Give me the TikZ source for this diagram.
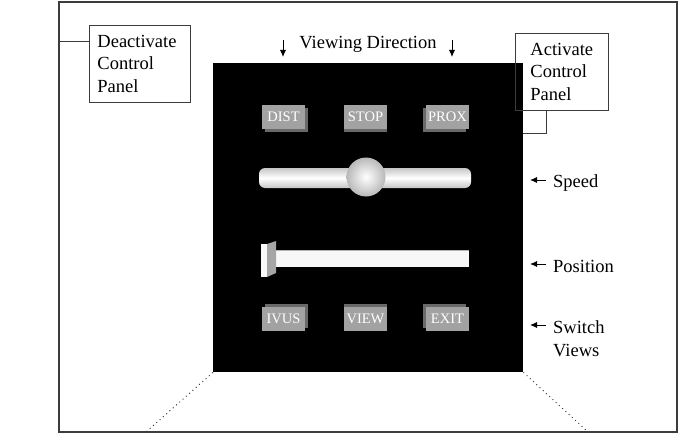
\documentclass[tikz,border=0pt]{standalone}
\usepackage{fontspec}
\setmainfont{Liberation Serif}
\usetikzlibrary{arrows.meta,shadows}
\definecolor{btnface}{RGB}{162,162,162}
\definecolor{btnside}{RGB}{105,105,105}
\definecolor{linegray}{RGB}{60,60,60}
\begin{document}
\begin{tikzpicture}[x=1pt,y=-1pt,
  lbl/.style={font=\fontsize{18.5}{22.5}\selectfont, inner sep=0pt, align=left},
  callout/.style={draw=linegray, line width=0.9pt, anchor=north west, minimum height=77pt,
    font=\fontsize{18.5}{22.5}\selectfont, align=left, inner ysep=0pt},
  conn/.style={draw=linegray, line width=0.9pt},
  arr/.style={line width=0.9pt, -{Latex[length=7pt,width=6pt]}},
  btn/.style={fill=btnface, minimum width=43pt, minimum height=24pt, inner sep=0pt,
    text=white, font=\fontsize{14.5}{15}\selectfont},
  bev/.style 2 args={drop shadow={shadow xshift=#1pt, shadow yshift=#2pt, fill=btnside, opacity=1}},
  dots/.style={draw=black!75, line width=1pt, dash pattern=on 1pt off 3.4pt}
]
\useasboundingbox (0,0) rectangle (682,436);
% outer frame
\draw[draw=linegray, line width=1.5pt] (59,2) rectangle (677,432);
\coordinate (fbl) at (146,432);
\coordinate (fbr) at (588,432);
% black panel
\node[fill=black, minimum width=310pt, minimum height=309pt, inner sep=0pt, anchor=north west] (panel) at (213,63) {};
% dotted perspective lines
\draw[dots] (panel.south west) -- (fbl);
\draw[dots] (panel.south east) -- (fbr);
% callouts
\node[callout, text width=85pt, inner xsep=8pt, minimum width=101pt] (deact) at (89,25) {Deactivate\\Control\\Panel};
\coordinate (fl) at (59,41);
\draw[conn] (fl) -- (fl -| deact.west);
\node[callout, text width=63pt, inner xsep=15pt, minimum width=93pt] (act) at (515,33) {Activate\\Control\\Panel};
\coordinate (ac) at (546,133);
\draw[conn] (ac -| panel.east) -- (ac) -- (ac |- act.south);
% viewing direction
\node[lbl] (vd) at (368,44) {Viewing Direction};
\coordinate (va1) at (283,40);
\coordinate (va2) at (452,40);
\draw[arr] (va1) -- ++(0,17);
\draw[arr] (va2) -- ++(0,17);
% top buttons
\node[btn, bev={3}{-3}] (dist) at (283.5,117) {DIST};
\node[btn, bev={0}{-3}] (stop) at (365.5,117) {STOP};
\node[btn, bev={-3}{-3}] (prox) at (447.5,117) {PROX};
% speed slider
\node[minimum width=212pt, minimum height=20pt, inner sep=0pt, rounded corners=6pt,
  top color=gray!45, bottom color=gray!45, middle color=white] (speedbar) at (365,178) {};
\node[circle, minimum size=39pt, inner sep=0pt, inner color=white, outer color=gray!55] (knob) at (366,177) {};
% position slider
\node[fill=white!94!gray, minimum width=201pt, minimum height=16pt, inner sep=0pt] (posbar) at (368.5,259) {};
\draw[gray!60, line width=0.8pt] (posbar.north west) -- (posbar.north east);
\fill[gray!70] (267,244) -- (276,241) -- (276,273) -- (267,277) -- cycle;
\node[fill=white!96!gray, minimum width=6pt, minimum height=33pt, inner sep=0pt, anchor=north west] (handle) at (261,244) {};
% bottom buttons
\node[btn, bev={3}{3}] (ivus) at (283.5,318.5) {IVUS};
\node[btn, bev={0}{3}] (view) at (365.5,318.5) {VIEW};
\node[btn, bev={-3}{3}] (exit) at (447.5,318.5) {EXIT};
% right labels
\node[lbl, anchor=base west] (speedl) at (553,187) {Speed};
\node[lbl, anchor=base west] (posl) at (553,272) {Position};
\node[lbl, anchor=north west] (swl) at (553,320.5) {Switch\\Views};
\coordinate (sa) at (546,180);
\coordinate (pa) at (546,264);
\coordinate (wa) at (546,325);
\draw[arr] (sa) -- ++(-16,0);
\draw[arr] (pa) -- ++(-16,0);
\draw[arr] (wa) -- ++(-16,0);
\end{tikzpicture}
\end{document}
